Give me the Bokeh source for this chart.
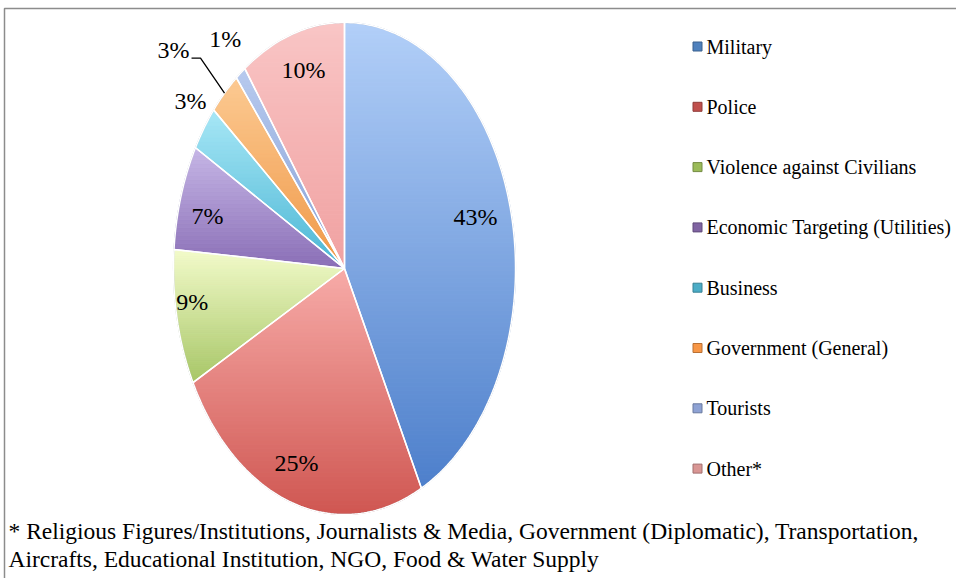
import numpy as np
from bokeh.plotting import figure
from bokeh.models import Range1d
from bokeh.core.properties import value
from bokeh.embed import file_html
from bokeh.resources import INLINE

# ---------------- data ----------------
categories = ["Military", "Police", "Violence against Civilians",
              "Economic Targeting (Utilities)", "Business",
              "Government (General)", "Tourists", "Other*"]
shares = [43, 25, 9, 7, 3, 3, 1, 10]
pct_labels = [f"{s}%" for s in shares]
top_colors = ["#b2cff8", "#f7aba8", "#f3fbcb", "#c6b6e6",
              "#a8e7f6", "#fcca92", "#b7caee", "#f9c5c5"]
bottom_colors = ["#4d7fcb", "#cf5651", "#a7c666", "#8a6eb6",
                 "#4bb6d4", "#ef9848", "#88a2d7", "#f0a1a1"]
legend_colors = ["#4f81bd", "#c0504d", "#9bbb59", "#8064a2",
                 "#4bacc6", "#f79646", "#8ea2d4", "#d99694"]
footnote_lines = [
    "* Religious Figures/Institutions, Journalists & Media, Government (Diplomatic), Transportation,",
    "Aircrafts, Educational Institution, NGO, Food & Water Supply",
]

# ---------------- layout ----------------
W, H = 956, 578
CX, CY, RX, RY = 344, 268, 171, 246
FONT = "Liberation Serif"

p = figure(width=W, height=H, x_range=Range1d(0, W), y_range=Range1d(H, 0),
           x_axis_type=None, y_axis_type=None, output_backend="svg",
           toolbar_location=None, min_border=0, outline_line_color=None)
p.background_fill_color = "white"
p.border_fill_color = "white"


def pt(t, r=1.0):
    return CX + r * RX * np.sin(t), CY - r * RY * np.cos(t)


def hexrgb(h):
    h = h.lstrip("#")
    return [int(h[i:i + 2], 16) for i in (0, 2, 4)]


def mix(c1, c2, f):
    a, b = hexrgb(c1), hexrgb(c2)
    return "#%02x%02x%02x" % tuple(int(round(a[k] + (b[k] - a[k]) * f)) for k in range(3))


def clip_half(pts, yc, keep_ge):
    out = []
    n = len(pts)
    for i in range(n):
        cur, prev = pts[i], pts[i - 1]
        cin = cur[1] >= yc if keep_ge else cur[1] <= yc
        pin = prev[1] >= yc if keep_ge else prev[1] <= yc
        if cin != pin:
            t = (yc - prev[1]) / (cur[1] - prev[1])
            out.append((prev[0] + t * (cur[0] - prev[0]), yc))
        if cin:
            out.append(cur)
    return out


total = float(sum(shares))
cum = np.concatenate([[0], np.cumsum(shares)]) / total * 2 * np.pi

band_xs, band_ys, band_cols = [], [], []
slice_xs, slice_ys = [], []
for i in range(len(shares)):
    t0, t1 = cum[i], cum[i + 1]
    n = max(6, int(np.degrees(t1 - t0)))
    ts = np.linspace(t0, t1, n)
    poly = [(CX, CY)] + [pt(t) for t in ts]
    slice_xs.append([q[0] for q in poly])
    slice_ys.append([q[1] for q in poly])
    ymin = min(q[1] for q in poly)
    ymax = max(q[1] for q in poly)
    step = 4.0
    a = ymin
    while a < ymax:
        b = min(a + step, ymax)
        c = clip_half(clip_half(poly, a, True), b, False)
        if len(c) >= 3:
            f = ((a + b) / 2 - ymin) / max(ymax - ymin, 1)
            band_xs.append([q[0] for q in c])
            band_ys.append([q[1] for q in c])
            band_cols.append(mix(top_colors[i], bottom_colors[i], f))
        a = b

p.patches(band_xs, band_ys, fill_color=band_cols, line_color=band_cols, line_width=0.8)
p.ellipse(x=[CX], y=[CY], width=[2 * RX], height=[2 * RY], fill_alpha=0,
          line_color="#6f7f96", line_alpha=0.45, line_width=1.2)
p.patches(slice_xs, slice_ys, fill_alpha=0, line_color="white", line_width=1.5)

# ---------------- slice labels ----------------
rfac = [0.795, 0.84, 0.9, 0.83, 1.13, 1.0, 1.166, 0.84]
nudge = [-2.0, 1.7, 3.0, -1.9, 2.4, 0.0, 0.7, 1.2]
lx, ly, lt = [], [], []
for i in range(len(shares)):
    mid = (cum[i] + cum[i + 1]) / 2
    if i == 5:
        ex, ey = pt(mid, 1.0)
        bx, by = pt(mid, 1.2)
        p.line([ex, bx, bx - 9], [ey, by, by], line_color="black", line_width=1.3)
        p.text(x=[bx - 11], y=[by - 8], text=[pct_labels[i]], text_align="right",
               text_baseline="middle", text_font=value(FONT), text_font_size="24px",
               text_color="black")
        continue
    x, y = pt(mid + np.radians(nudge[i]), rfac[i])
    lx.append(x); ly.append(y); lt.append(pct_labels[i])
p.text(x=lx, y=ly, text=lt, text_align="center", text_baseline="middle",
       text_font=value(FONT), text_font_size="24px", text_color="black")

# ---------------- legend ----------------
leg_y0, leg_dy = 46, 60.3
leg_y = [leg_y0 + k * leg_dy for k in range(len(categories))]
p.scatter(x=[697] * len(categories), y=leg_y, marker="square", size=9,
          fill_color=legend_colors, line_color=[mix(c, "#000000", 0.25) for c in legend_colors],
          line_width=1)
p.text(x=[706] * len(categories), y=leg_y, text=categories, text_align="left",
       text_baseline="middle", text_font=value(FONT), text_font_size="20px",
       text_color="black")

# ---------------- footnote ----------------
p.text(x=[8, 8], y=[530, 558], text=footnote_lines, text_align="left",
       text_baseline="middle", text_font=value(FONT), text_font_size="23.5px",
       text_color="black")

# ---------------- frame ----------------
p.line([4, 4, W], [H, 8, 8], line_color="#8c8c8c", line_width=1.5)

open("out.html", "w").write(file_html(p, INLINE))
